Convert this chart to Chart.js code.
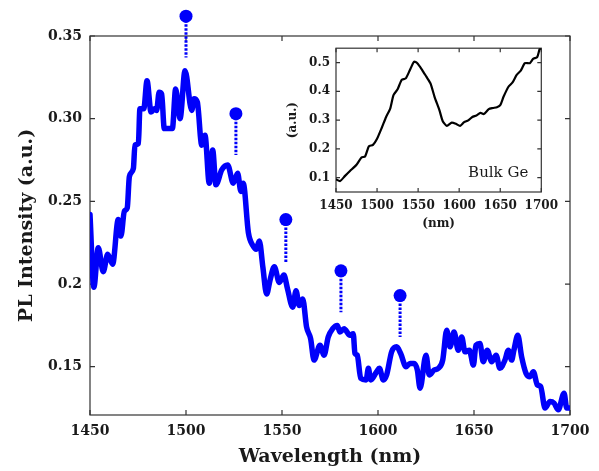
<!DOCTYPE html>
<html lang="en">
<head>
<meta charset="UTF-8">
<title>PL Spectrum</title>
<script src="https://cdn.jsdelivr.net/npm/chart.js@4.4.0/dist/chart.umd.min.js"></script>
<style>
    body { margin: 0; background: #fff; }
    .wrap { position: relative; width: 599px; height: 471px; }
    #main { position: absolute; left: 0; top: 0; }
    #inset { position: absolute; left: 280px; top: 35px; }
</style>
</head>
<body>
<div class="wrap">
    <canvas id="main" width="599" height="471"></canvas>
    <canvas id="inset" width="285" height="205"></canvas>
</div>
<script>
// main spectrum
const wavelength = [1450,1452,1454.3,1456.9,1459.2,1461.8,1464.7,1466.1,1467.9,1469.4,
    1470.5,1472.6,1473.4,1475.2,1476,1478,1479.7,1481.8,1483.5,1484.7,
    1486,1487.3,1488.7,1492.9,1494.6,1496.9,1499.5,1503,1504.2,1505.9,
    1508.2,1509.9,1512.1,1513.9,1515.6,1518.6,1521.7,1524.6,1526.9,1528.6,
    1529.8,1532.5,1535,1536.5,1538.2,1540,1542,1543.8,1546,1548.6,
    1551,1552.8,1555.6,1557.3,1559,1560.8,1562.8,1564.9,1566.7,1569.8,
    1571.9,1574.1,1576.4,1578.8,1580.2,1582.3,1585.4,1587.1,1588,1589.2,
    1591,1593.8,1595,1596.2,1599.3,1600.7,1602.8,1604.5,1607.1,1609.7,
    1611.8,1614.6,1616.7,1618.8,1620.5,1621.9,1625,1626.7,1629.2,1631.4,
    1633.7,1635.8,1637.5,1639.6,1641.8,1643.6,1645.3,1647.6,1649.7,1651,
    1653.1,1654.8,1656.9,1659.2,1661.5,1663.5,1666.1,1667.9,1669.6,1670.8,
    1672.8,1674.8,1677.1,1679.2,1680.9,1683,1684.7,1687,1689.6,1691.7,
    1693.9,1696.9,1698.3,1700];
const intensity = [0.242,0.198,0.222,0.2075,0.218,0.212,0.239,0.229,0.244,0.246,
    0.265,0.270,0.284,0.285,0.306,0.306,0.323,0.304,0.306,0.305,
    0.316,0.315,0.294,0.294,0.318,0.300,0.329,0.305,0.312,0.310,
    0.284,0.290,0.261,0.281,0.260,0.269,0.272,0.261,0.267,0.256,
    0.261,0.231,0.223,0.221,0.226,0.2105,0.194,0.2025,0.2105,0.201,
    0.2055,0.1975,0.186,0.196,0.187,0.191,0.174,0.167,0.154,0.163,
    0.157,0.168,0.173,0.175,0.171,0.173,0.169,0.170,0.158,0.157,
    0.143,0.142,0.149,0.142,0.147,0.149,0.142,0.145,0.159,0.162,
    0.158,0.150,0.152,0.152,0.148,0.137,0.157,0.145,0.148,0.149,
    0.154,0.172,0.162,0.171,0.160,0.168,0.159,0.160,0.151,0.163,
    0.164,0.153,0.160,0.153,0.157,0.149,0.154,0.160,0.154,0.160,
    0.169,0.156,0.146,0.144,0.147,0.139,0.138,0.125,0.129,0.128,
    0.124,0.134,0.125,0.125];

// peak markers
const peakWl = [1500, 1526, 1552, 1580.7, 1611.5];
const peakTop = [0.362, 0.303, 0.239, 0.208, 0.193];
const peakStemEnd = [0.337, 0.278, 0.213, 0.183, 0.168];

const xTicks = [1450, 1500, 1550, 1600, 1650, 1700];
const yTicks = [0.15, 0.2, 0.25, 0.30, 0.35];
const yTickLabels = ['0.15', '0.2', '0.25', '0.30', '0.35'];

// inset: bulk Ge
const bulkWl = [1450,1455,1461,1467,1475,1481,1485.5,1490,1495,1500,
    1506,1511,1516,1520,1525,1530,1535,1540,1545,1549,
    1555,1560,1565,1570,1576,1580,1585,1591,1596,1601,
    1606,1611,1616,1621,1626,1630,1636,1641,1646,1650,
    1654,1660,1665,1670,1675,1680,1686,1690,1695,1698,1700];
const bulkPl = [0.094,0.088,0.106,0.123,0.145,0.170,0.174,0.209,0.214,0.235,
    0.275,0.311,0.340,0.387,0.407,0.440,0.445,0.474,0.503,0.498,
    0.474,0.451,0.428,0.381,0.334,0.296,0.280,0.291,0.287,0.280,
    0.293,0.299,0.311,0.316,0.325,0.321,0.338,0.342,0.345,0.352,
    0.381,0.416,0.431,0.457,0.472,0.498,0.498,0.513,0.519,0.547,0.55];
const insetXTicks = [1450, 1500, 1550, 1600, 1650, 1700];
const insetYTicks = [0.1, 0.2, 0.3, 0.4, 0.5];

const BLUE = 'rgb(0, 0, 250)';
const TEXT = '#1a1a1a';
const SERIF = '"DejaVu Serif", "Liberation Serif", serif';

// box round the plot with inward ticks on all four sides
const framePlugin = {
    id: 'frame',
    beforeDatasetsDraw(chart, args, opts) {
        const { ctx, chartArea: a, scales: { x, y } } = chart;
        const L = opts.tick;
        ctx.save();
        ctx.strokeStyle = '#333';
        ctx.lineWidth = 1.2;
        ctx.strokeRect(a.left, a.top, a.right - a.left, a.bottom - a.top);
        ctx.beginPath();
        x.ticks.forEach(t => {
            const px = x.getPixelForValue(t.value);
            ctx.moveTo(px, a.bottom); ctx.lineTo(px, a.bottom - L);
            ctx.moveTo(px, a.top); ctx.lineTo(px, a.top + L);
        });
        y.ticks.forEach(t => {
            const py = y.getPixelForValue(t.value);
            ctx.moveTo(a.left, py); ctx.lineTo(a.left + L, py);
            ctx.moveTo(a.right, py); ctx.lineTo(a.right - L, py);
        });
        ctx.stroke();
        ctx.restore();
    }
};

// peak dots may sit above the plot box, so paint them from the parsed elements
const peakDotPlugin = {
    id: 'peakDots',
    afterDatasetsDraw(chart) {
        const { ctx } = chart;
        chart.data.datasets.forEach((ds, di) => {
            if (!ds.peakDots) return;
            ctx.save();
            ctx.fillStyle = ds.borderColor;
            chart.getDatasetMeta(di).data.forEach(el => {
                ctx.beginPath();
                ctx.arc(el.x, el.y, 6.5, 0, Math.PI * 2);
                ctx.fill();
            });
            ctx.restore();
        });
    }
};

const labelPlugin = {
    id: 'bulkLabel',
    afterDraw(chart) {
        const { ctx, chartArea: a } = chart;
        ctx.save();
        ctx.font = '15px ' + SERIF;
        ctx.fillStyle = TEXT;
        ctx.textAlign = 'right';
        ctx.textBaseline = 'alphabetic';
        ctx.fillText('Bulk Ge', a.right - 13, a.bottom - 15);
        ctx.restore();
    }
};

const mainPoints = wavelength.map((w, i) => ({ x: w, y: intensity[i] }));
const peakPoints = peakWl.map((w, i) => ({ x: w, y: peakTop[i] }));
const stemPoints = [];
peakWl.forEach((w, i) => {
    stemPoints.push({ x: w, y: peakTop[i] }, { x: w, y: peakStemEnd[i] }, { x: w, y: null });
});

new Chart(document.getElementById('main'), {
    type: 'line',
    data: {
        datasets: [{
            data: mainPoints,
            borderColor: BLUE,
            borderWidth: 5.5,
            borderJoinStyle: 'round',
            borderCapStyle: 'round',
            cubicInterpolationMode: 'monotone',
            pointRadius: 0,
            fill: false
        }, {
            data: stemPoints,
            borderColor: BLUE,
            borderWidth: 3,
            borderDash: [2.5, 1.5],
            spanGaps: false,
            pointRadius: 0,
            clip: false
        }, {
            data: peakPoints,
            peakDots: true,
            showLine: false,
            borderColor: BLUE,
            pointRadius: 0,
            clip: false
        }]
    },
    options: {
        responsive: false,
        animation: false,
        layout: { padding: { left: 0, top: 36, right: 29, bottom: 0 } },
        plugins: {
            legend: { display: false },
            tooltip: { enabled: false },
            frame: { tick: 5 }
        },
        scales: {
            x: {
                type: 'linear', min: 1450, max: 1700,
                afterBuildTicks: s => { s.ticks = xTicks.map(v => ({ value: v })); },
                afterFit: s => { s.height = 56; },
                grid: { display: false, drawTicks: false },
                border: { display: false },
                ticks: { padding: 8, color: TEXT, autoSkip: false, maxRotation: 0,
                    callback: v => String(v),
                    font: { family: SERIF, size: 14, weight: 'bold' } },
                title: { display: true, text: 'Wavelength (nm)', color: TEXT,
                    padding: { top: 0, bottom: 3 },
                    font: { family: SERIF, size: 19, weight: 'bold' } }
            },
            y: {
                type: 'linear', min: 0.1208, max: 0.35,
                afterBuildTicks: s => { s.ticks = yTicks.map(v => ({ value: v })); },
                afterFit: s => { s.width = 90; },
                grid: { display: false, drawTicks: false },
                border: { display: false },
                ticks: { padding: 8, color: TEXT,
                    callback: (v, i) => yTickLabels[i],
                    font: { family: SERIF, size: 14, weight: 'bold' } },
                title: { display: true, text: 'PL Intensity (a.u.)', color: TEXT,
                    padding: { top: 16, bottom: 0 },
                    font: { family: SERIF, size: 19, weight: 'bold' } }
            }
        }
    },
    plugins: [framePlugin, peakDotPlugin]
});

new Chart(document.getElementById('inset'), {
    type: 'line',
    data: {
        datasets: [{
            data: bulkWl.map((w, i) => ({ x: w, y: bulkPl[i] })),
            borderColor: '#000',
            borderWidth: 2.2,
            borderJoinStyle: 'round',
            tension: 0.2,
            pointRadius: 0,
            fill: false
        }]
    },
    options: {
        responsive: false,
        animation: false,
        layout: { padding: { left: 0, top: 0, right: 23, bottom: 0 } },
        plugins: {
            legend: { display: false },
            tooltip: { enabled: false },
            frame: { tick: 4 }
        },
        scales: {
            x: {
                type: 'linear', min: 1450, max: 1700,
                afterBuildTicks: s => { s.ticks = insetXTicks.map(v => ({ value: v })); },
                afterFit: s => { s.height = 48; },
                grid: { display: false, drawTicks: false },
                border: { display: false },
                ticks: { padding: 7, color: TEXT, autoSkip: false, maxRotation: 0,
                    callback: v => String(v),
                    font: { family: SERIF, size: 12, weight: 'bold' } },
                title: { display: true, text: '(nm)', color: TEXT,
                    padding: { top: 0, bottom: 9 },
                    font: { family: SERIF, size: 12, weight: 'bold' } }
            },
            y: {
                type: 'linear', min: 0.05, max: 0.55,
                afterBuildTicks: s => { s.ticks = insetYTicks.map(v => ({ value: v })); },
                afterFit: s => { s.width = 56; },
                grid: { display: false, drawTicks: false },
                border: { display: false },
                ticks: { padding: 6, color: TEXT,
                    font: { family: SERIF, size: 12, weight: 'bold' } },
                title: { display: true, text: '(a.u.)', color: TEXT,
                    padding: { top: 5.5, bottom: 0 },
                    font: { family: SERIF, size: 12, weight: 'bold' } }
            }
        }
    },
    plugins: [framePlugin, labelPlugin]
});
</script>
</body>
</html>
